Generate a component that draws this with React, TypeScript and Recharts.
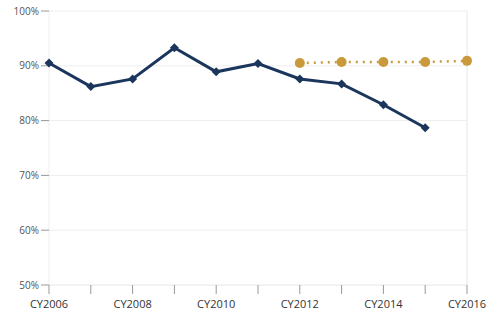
import React from 'react';
import { LineChart, Line, XAxis, YAxis, CartesianGrid, ReferenceLine } from 'recharts';

const years = [2006, 2007, 2008, 2009, 2010, 2011, 2012, 2013, 2014, 2015, 2016];
const actual = [90.5, 86.2, 87.6, 93.3, 88.9, 90.4, 87.6, 86.7, 82.9, 78.7, null];
const target = [null, null, null, null, null, null, 90.5, 90.7, 90.7, 90.7, 90.9];
const yTicks = [50, 60, 70, 80, 90, 100];

const data = years.map((year, i) => ({ year, actual: actual[i], target: target[i] }));

const tickStyle = { fontFamily: '"Open Sans", sans-serif', fontSize: 10, fill: '#555' };

// small diamond marker for the actual series
const Diamond = (props: any) => {
    const { cx, cy, index } = props;
    if (cx == null || cy == null || props.value == null) return <g key={index} />;
    const s = 4.5;
    return (
        <polygon
            key={index}
            points={`${cx},${cy - s} ${cx + s},${cy} ${cx},${cy + s} ${cx - s},${cy}`}
            fill="#1b365d"
        />
    );
};

export default function App() {
    return (
        <div style={{ position: 'absolute', left: 0, top: 0, width: 489, height: 316, background: '#fff' }}>
            <LineChart width={489} height={316} data={data} margin={{ top: 11, right: 22, bottom: 0, left: 0 }}>
                <CartesianGrid vertical={false} stroke="#eeeeee" />
                <ReferenceLine x={2016} stroke="#e6e6e6" />
                <XAxis
                    dataKey="year"
                    type="number"
                    domain={[2006, 2016]}
                    ticks={years}
                    tickFormatter={(v: number) => (v % 2 === 0 ? `CY${v}` : '')}
                    axisLine={{ stroke: '#eeeeee' }}
                    tickLine={{ stroke: '#999' }}
                    tickSize={9}
                    tickMargin={6}
                    height={31}
                    tick={{ ...tickStyle, fontSize: 11, fill: '#333' }}
                />
                <YAxis
                    domain={[50, 100]}
                    ticks={yTicks}
                    tickFormatter={(v: number) => `${v}%`}
                    axisLine={{ stroke: '#eeeeee' }}
                    tickLine={{ stroke: '#999' }}
                    tickSize={8}
                    width={49}
                    tick={tickStyle}
                />
                <Line
                    dataKey="target"
                    stroke="#c99a3c"
                    strokeWidth={2.5}
                    strokeDasharray="2 5"
                    dot={{ r: 5, fill: '#c99a3c', stroke: 'none' }}
                    isAnimationActive={false}
                    connectNulls={false}
                />
                <Line
                    dataKey="actual"
                    stroke="#1b365d"
                    strokeWidth={3}
                    dot={<Diamond />}
                    isAnimationActive={false}
                    connectNulls={false}
                />
            </LineChart>
        </div>
    );
}
